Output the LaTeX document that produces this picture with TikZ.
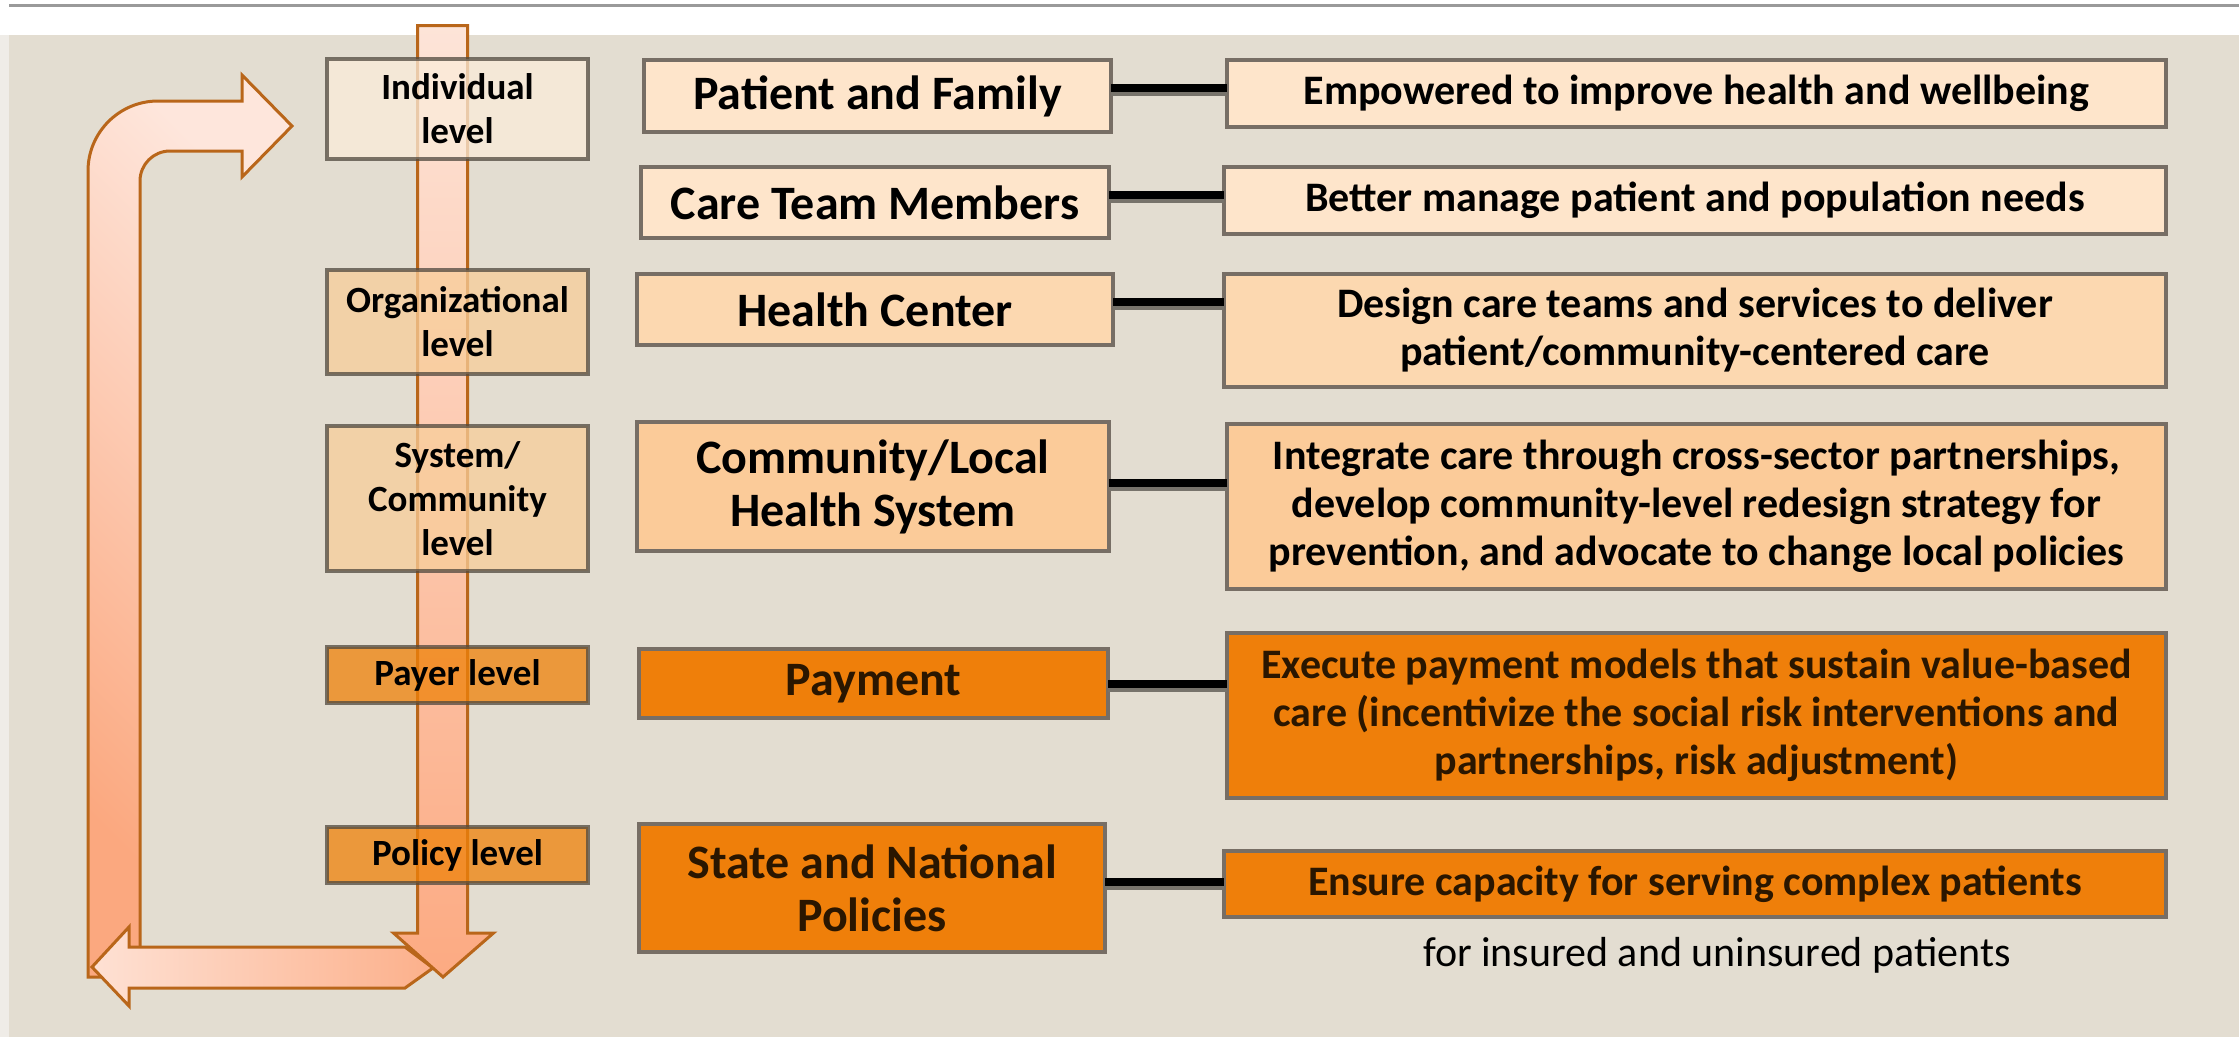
\documentclass[tikz,border=0pt]{standalone}
\usepackage{fontspec}
\setmainfont{Carlito}
\usetikzlibrary{calc}
\definecolor{panel}{HTML}{E3DDD1}
\definecolor{leftstrip}{HTML}{EFECE7}
\definecolor{topline}{HTML}{9A9A9A}
\definecolor{boxline}{HTML}{776E65}
\definecolor{lvlline}{HTML}{50483E}
\definecolor{fillA}{HTML}{FEE5CB}
\definecolor{fillB}{HTML}{FCD8B0}
\definecolor{fillC}{HTML}{FBCB99}
\definecolor{fillO}{HTML}{EF7F0A}
\definecolor{lvlA}{HTML}{FBECDA}
\definecolor{lvlB}{HTML}{F8CE9A}
\definecolor{lvlO}{HTML}{EF8209}
\definecolor{arrline}{HTML}{B9661A}
\definecolor{darktext}{HTML}{2A1600}
\definecolor{shadowgray}{HTML}{77736B}
\definecolor{bentTop}{HTML}{FEE6DC}
\definecolor{bentBot}{HTML}{FBA87F}
\definecolor{botL}{HTML}{FEE1D4}
\definecolor{botR}{HTML}{FCB08B}
\definecolor{vertTop}{HTML}{FDE4D8}
\definecolor{vertBot}{HTML}{FCAA82}
\tikzset{
  basebox/.style={draw=boxline, line width=4pt, inner sep=0pt, outer sep=0pt, align=center, text=black},
  midbox/.style={basebox, font=\fontsize{48}{53}\selectfont\bfseries},
  rightbox/.style={basebox, font=\fontsize{42}{48}\selectfont\bfseries},
  orangebox/.style={fill=fillO, text=darktext},
  lvlbox/.style={draw=lvlline, line width=4pt, inner sep=0pt, outer sep=0pt, align=center,
    fill opacity=0.75, draw opacity=0.75, text opacity=1, text=black,
    font=\fontsize{37}{44}\selectfont\bfseries, minimum width=261pt},
  conn/.style={line width=8pt, black},
  connshadow/.style={line width=4pt, shadowgray},
  arrowshape/.style={draw=arrline, line width=3pt, line join=miter},
  foot/.style={font=\fontsize{42}{48}\selectfont, text=black, inner sep=0pt}
}
\begin{document}
\begin{tikzpicture}[x=1pt,y=-1pt]
\useasboundingbox (0,0) rectangle (2239,1037);
\fill[white] (0,0) rectangle (2239,1037);
\fill[leftstrip] (0,35) rectangle (9,1037);
\fill[panel] (9,35) rectangle (2239,1037);
\draw[topline, line width=3.5pt] (9,5.5) -- (2239,5.5);

% bent arrow (up and right)
\draw[arrowshape, top color=bentTop, bottom color=bentBot, shading angle=-45]
  (88,977) -- (88,171) arc[start angle=180,end angle=90,radius=70pt]
  -- (242,101) -- (242,75) -- (292,126) -- (242,177) -- (242,151) -- (170,151)
  arc[start angle=90,end angle=180,radius=30pt] -- (140,977) -- cycle;

% bottom arrow (pointing left)
\draw[arrowshape, left color=botL, right color=botR]
  (433,968) -- (405,988) -- (129,988) -- (129,1006) -- (92,967) -- (129,927) -- (129,947) -- (405,947) -- cycle;

% vertical arrow (pointing down)
\draw[arrowshape, top color=vertTop, bottom color=vertBot]
  (417.5,25.5) -- (467.5,25.5) -- (467.5,933) -- (493.5,933) -- (443,977) -- (393.5,933) -- (417.5,933) -- cycle;

% level boxes
\node[lvlbox, fill=lvlA, minimum height=100pt] (ind) at (457.5,109) {Individual\\level};
\node[lvlbox, fill=lvlB, minimum height=104pt] (org) at (457.5,322) {Organizational\\level};
\node[lvlbox, fill=lvlB, minimum height=145pt] (sys) at (457.5,498.5) {System/\\Community\\level};
\node[lvlbox, fill=lvlO, minimum height=56pt] (pay) at (457.5,675) {Payer level};
\node[lvlbox, fill=lvlO, minimum height=56pt] (pol) at (457.5,855) {Policy level};

% middle boxes
\node[midbox, fill=fillA, minimum width=467pt, minimum height=72pt] (pf) at (877.5,96) {Patient and Family};
\node[midbox, fill=fillA, minimum width=468pt, minimum height=71pt] (ct) at (875,202.5) {Care Team Members};
\node[midbox, fill=fillB, minimum width=476pt, minimum height=71pt] (hc) at (875,309.5) {Health Center};
\node[midbox, fill=fillC, minimum width=472pt, minimum height=129pt] (cl) at (873,486.5) {Community/Local\\Health System};
\node[midbox, orangebox, minimum width=469pt, minimum height=69pt] (pm) at (873.5,683.5) {Payment};
\node[midbox, orangebox, minimum width=466pt, minimum height=128pt] (sn) at (872,888) {State and National\\Policies};

% right boxes
\node[rightbox, fill=fillA, minimum width=939pt, minimum height=67pt] (e1) at (1696.5,93.5) {Empowered to improve health and wellbeing};
\node[rightbox, fill=fillA, minimum width=942pt, minimum height=67pt] (e2) at (1695,200.5) {Better manage patient and population needs};
\node[rightbox, fill=fillB, minimum width=942pt, minimum height=113pt] (e3) at (1695,330.5) {Design care teams and services to deliver\\patient/community-centered care};
\node[rightbox, fill=fillC, minimum width=939pt, minimum height=165pt] (e4) at (1696.5,506) {Integrate care through cross-sector partnerships,\\develop community-level redesign strategy for\\prevention, and advocate to change local policies};
\node[rightbox, orangebox, minimum width=939pt, minimum height=165pt] (e5) at (1696.5,715.5) {Execute payment models that sustain value-based\\care (incentivize the social risk interventions and\\partnerships, risk adjustment)};
\node[rightbox, orangebox, minimum width=942pt, minimum height=66pt] (e6) at (1695,884) {Ensure capacity for serving complex patients};

\node[foot] (fn) at (1717,955) {for insured and uninsured patients};

% connectors
\draw[connshadow] ([yshift=2.5pt]pf.east) -- ([yshift=2.5pt]pf.east -| e1.west);
\draw[conn] ([yshift=8.5pt]pf.east) -- ([yshift=8.5pt]pf.east -| e1.west);
\draw[connshadow] ([yshift=1.5pt]ct.east) -- ([yshift=1.5pt]ct.east -| e2.west);
\draw[conn] ([yshift=7.5pt]ct.east) -- ([yshift=7.5pt]ct.east -| e2.west);
\draw[connshadow] ([yshift=1.5pt]hc.east) -- ([yshift=1.5pt]hc.east -| e3.west);
\draw[conn] ([yshift=7.5pt]hc.east) -- ([yshift=7.5pt]hc.east -| e3.west);
\draw[connshadow] ([yshift=-2.5pt]cl.east) -- ([yshift=-2.5pt]cl.east -| e4.west);
\draw[conn] ([yshift=3.5pt]cl.east) -- ([yshift=3.5pt]cl.east -| e4.west);
\draw[connshadow] ([yshift=-6pt]pm.east) -- ([yshift=-6pt]pm.east -| e5.west);
\draw[conn] ([yshift=0pt]pm.east) -- ([yshift=0pt]pm.east -| e5.west);
\draw[connshadow] ([yshift=0pt]sn.east) -- ([yshift=0pt]sn.east -| e6.west);
\draw[conn] ([yshift=6pt]sn.east) -- ([yshift=6pt]sn.east -| e6.west);
\end{tikzpicture}
\end{document}
